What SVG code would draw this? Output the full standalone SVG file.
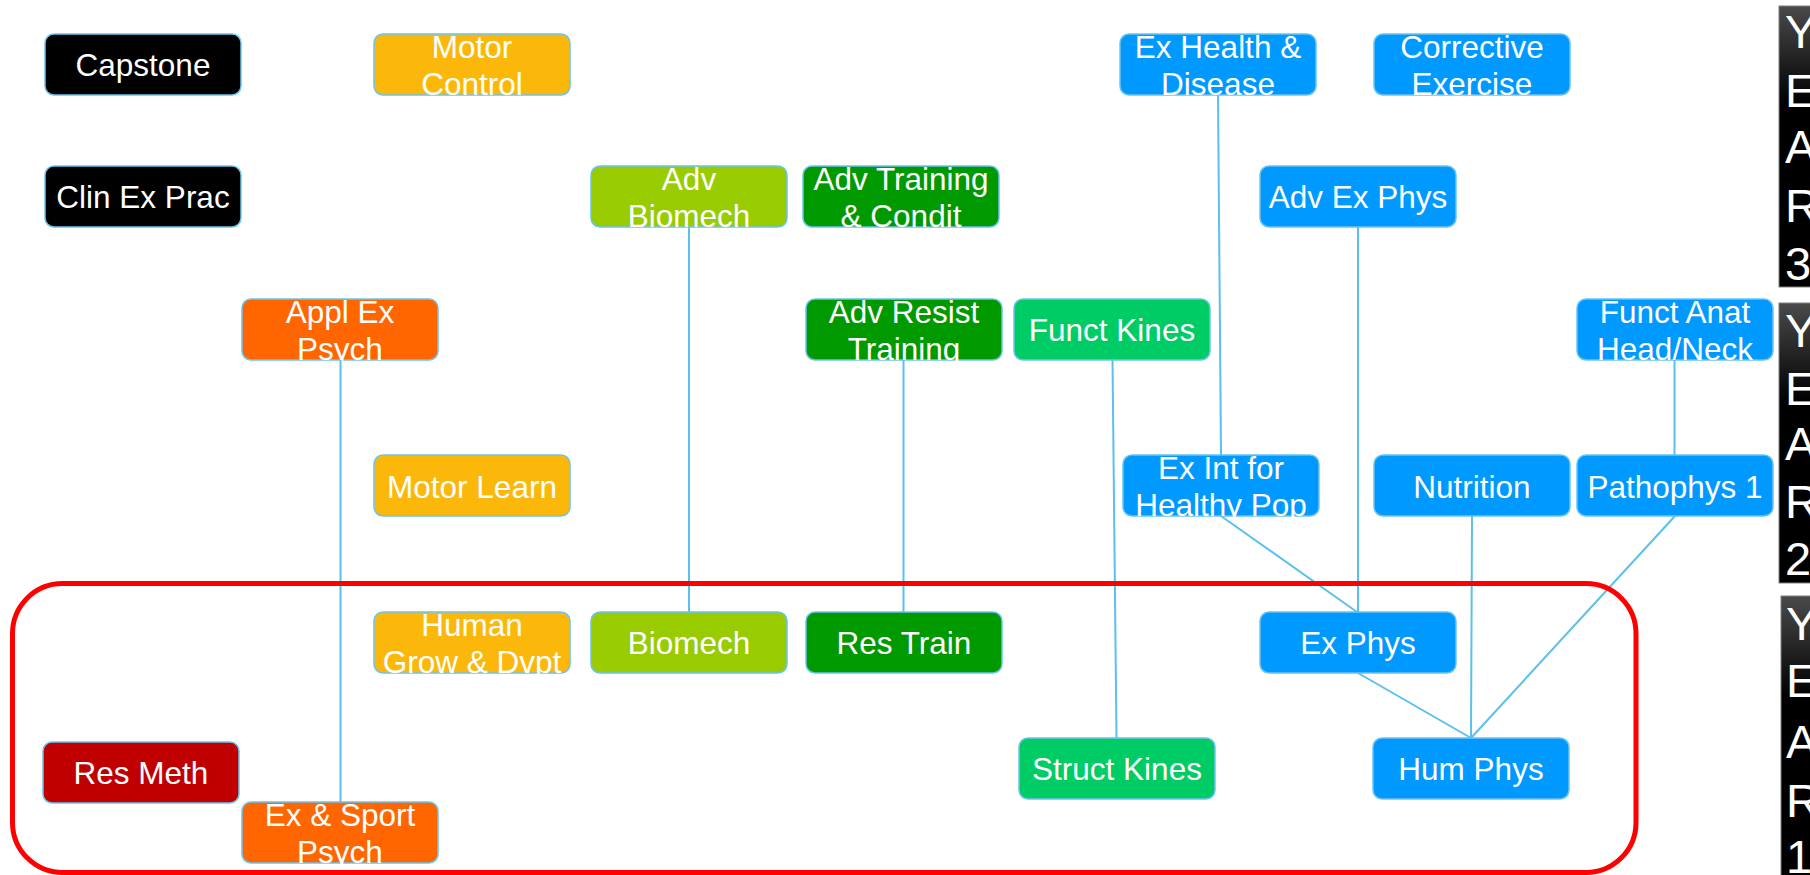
<svg xmlns="http://www.w3.org/2000/svg" width="1810" height="875" viewBox="0 0 1810 875">
<defs>
<linearGradient id="yearGrad" x1="0" y1="0" x2="0" y2="1">
<stop offset="0" stop-color="#4a4a4a"/>
<stop offset="0.35" stop-color="#000000"/>
<stop offset="1" stop-color="#000000"/>
</linearGradient>
<style>
.node rect{stroke:#6cc4ee;stroke-width:1.5}
.node text{font-family:"Liberation Sans",Arial,sans-serif;font-size:31.5px;fill:#ffffff;text-anchor:middle}
.black rect{fill:#000000}
.yellow rect{fill:#fcb80a}
.lime rect{fill:#99cc00}
.green rect{fill:#009900}
.teal rect{fill:#00cc66}
.blue rect{fill:#0099ff}
.orange rect{fill:#ff6600}
.red rect{fill:#c00000}
.conn line{stroke:#5bc0eb;stroke-width:2}
.year rect{fill:url(#yearGrad);stroke:#808080;stroke-width:1}
.year text{font-family:"Liberation Sans",Arial,sans-serif;font-size:47px;fill:#ffffff}
</style>
</defs>
<rect width="1810" height="875" fill="#ffffff"/>

<g id="capstone" class="node black"><rect x="45" y="34" width="196" height="61" rx="9"/><text x="143" y="76">Capstone</text></g>
<g id="motor-control" class="node yellow"><rect x="374" y="34" width="196" height="61" rx="9"/><text x="472" y="57.5">Motor</text><text x="472" y="94.5">Control</text></g>
<g id="ex-health-disease" class="node blue"><rect x="1120" y="34" width="196" height="61" rx="9"/><text x="1218" y="57.5">Ex Health &amp;</text><text x="1218" y="94.5">Disease</text></g>
<g id="corrective-exercise" class="node blue"><rect x="1374" y="34" width="196" height="61" rx="9"/><text x="1472" y="57.5">Corrective</text><text x="1472" y="94.5">Exercise</text></g>

<g id="clin-ex-prac" class="node black"><rect x="45" y="166" width="196" height="61" rx="9"/><text x="143" y="208">Clin Ex Prac</text></g>
<g id="adv-biomech" class="node lime"><rect x="591" y="166" width="196" height="61" rx="9"/><text x="689" y="189.5">Adv</text><text x="689" y="226.5">Biomech</text></g>
<g id="adv-training-condit" class="node green"><rect x="803" y="166" width="196" height="61" rx="9"/><text x="901" y="189.5">Adv Training</text><text x="901" y="226.5">&amp; Condit</text></g>
<g id="adv-ex-phys" class="node blue"><rect x="1260" y="166" width="196" height="61" rx="9"/><text x="1358" y="208">Adv Ex Phys</text></g>

<g id="appl-ex-psych" class="node orange"><rect x="242" y="299" width="196" height="61" rx="9"/><text x="340" y="322.5">Appl Ex</text><text x="340" y="359.5">Psych</text></g>
<g id="adv-resist-training" class="node green"><rect x="806" y="299" width="196" height="61" rx="9"/><text x="904" y="322.5">Adv Resist</text><text x="904" y="359.5">Training</text></g>
<g id="funct-kines" class="node teal"><rect x="1014" y="299" width="196" height="61" rx="9"/><text x="1112" y="341">Funct Kines</text></g>
<g id="funct-anat-head-neck" class="node blue"><rect x="1577" y="299" width="196" height="61" rx="9"/><text x="1675" y="322.5">Funct Anat</text><text x="1675" y="359.5">Head/Neck</text></g>

<g id="motor-learn" class="node yellow"><rect x="374" y="455" width="196" height="61" rx="9"/><text x="472" y="497.5">Motor Learn</text></g>
<g id="ex-int-healthy-pop" class="node blue"><rect x="1123" y="455" width="196" height="61" rx="9"/><text x="1221" y="478.5">Ex Int for</text><text x="1221" y="515.5">Healthy Pop</text></g>
<g id="nutrition" class="node blue"><rect x="1374" y="455" width="196" height="61" rx="9"/><text x="1472" y="497.5">Nutrition</text></g>
<g id="pathophys-1" class="node blue"><rect x="1577" y="455" width="196" height="61" rx="9"/><text x="1675" y="497.5">Pathophys 1</text></g>

<g id="human-grow-dvpt" class="node yellow"><rect x="374" y="612" width="196" height="61" rx="9"/><text x="472" y="635.5">Human</text><text x="472" y="672.5">Grow &amp; Dvpt</text></g>
<g id="biomech" class="node lime"><rect x="591" y="612" width="196" height="61" rx="9"/><text x="689" y="654">Biomech</text></g>
<g id="res-train" class="node green"><rect x="806" y="612" width="196" height="61" rx="9"/><text x="904" y="654">Res Train</text></g>
<g id="ex-phys" class="node blue"><rect x="1260" y="612" width="196" height="61" rx="9"/><text x="1358" y="654">Ex Phys</text></g>

<g id="res-meth" class="node red"><rect x="43" y="742" width="196" height="61" rx="9"/><text x="141" y="784">Res Meth</text></g>
<g id="struct-kines" class="node teal"><rect x="1019" y="738" width="196" height="61" rx="9"/><text x="1117" y="780">Struct Kines</text></g>
<g id="hum-phys" class="node blue"><rect x="1373" y="738" width="196" height="61" rx="9"/><text x="1471" y="780">Hum Phys</text></g>
<g id="ex-sport-psych" class="node orange"><rect x="242" y="802" width="196" height="61" rx="9"/><text x="340" y="825.5">Ex &amp; Sport</text><text x="340" y="862.5">Psych</text></g>

<g id="connectors" class="conn">
<line x1="340.5" y1="360" x2="340.5" y2="802"/>
<line x1="689" y1="227" x2="689" y2="612"/>
<line x1="903.5" y1="360" x2="903.5" y2="612"/>
<line x1="1112.5" y1="360" x2="1116.5" y2="738"/>
<line x1="1218" y1="95" x2="1221" y2="455"/>
<line x1="1358" y1="227" x2="1358" y2="612"/>
<line x1="1221" y1="516" x2="1357" y2="612"/>
<line x1="1472" y1="516" x2="1471" y2="738"/>
<line x1="1675" y1="516" x2="1471" y2="738"/>
<line x1="1358" y1="673" x2="1471" y2="738"/>
<line x1="1674.5" y1="360" x2="1674.5" y2="455"/>
</g>

<g id="year-one-frame">
<rect x="12.5" y="583.5" width="1623.5" height="289" rx="50" ry="50" fill="none" stroke="#ff0000" stroke-width="5"/>
</g>

<g id="year-3" class="year"><rect x="1779" y="6" width="40" height="281"/>
<text x="1785" y="48.3">Y</text><text x="1785" y="106.7">E</text><text x="1785" y="163.3">A</text><text x="1785" y="221.7">R</text><text x="1785" y="280">3</text></g>
<g id="year-2" class="year"><rect x="1779" y="303" width="40" height="280"/>
<text x="1785" y="346.7">Y</text><text x="1785" y="405">E</text><text x="1785" y="460">A</text><text x="1785" y="518.3">R</text><text x="1785" y="575">2</text></g>
<g id="year-1" class="year"><rect x="1781" y="596" width="40" height="290"/>
<text x="1786" y="640">Y</text><text x="1786" y="697">E</text><text x="1786" y="758">A</text><text x="1786" y="816.7">R</text><text x="1786" y="873.3">1</text></g>
</svg>
